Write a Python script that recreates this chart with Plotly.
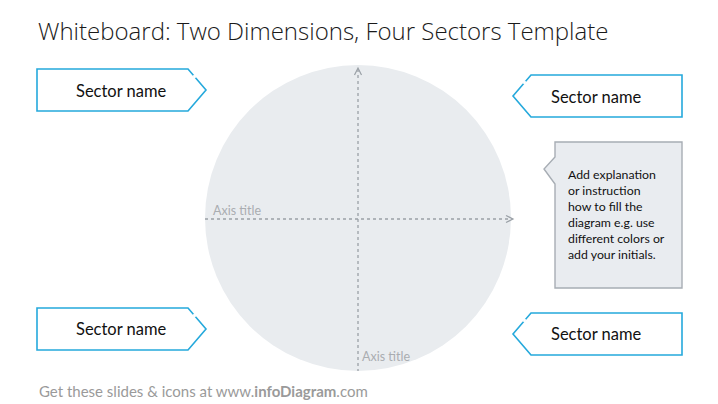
import plotly.graph_objects as go

# texts shown in the template
title_text = "Whiteboard: Two Dimensions, Four Sectors Template"
sector_names = ["Sector name", "Sector name", "Sector name", "Sector name"]
axis_titles = ["Axis title", "Axis title"]
note_lines = ["Add explanation", "or instruction", "how to fill the",
              "diagram e.g. use", "different colors or", "add your initials."]
footer_text = "Get these slides & icons at www.<b>infoDiagram</b>.com"

W, H = 718, 404
OFF = 8  # page body margin of the html
BLUE = "#25a9dc"
DOT = "#9aa0a6"

fig = go.Figure()
shapes = []
annotations = []


def path(points, close=True):
    d = "M " + " L ".join(f"{x},{y}" for x, y in points)
    return d + (" Z" if close else "")


# circle background
cx, cy, r = 358, 218, 153
shapes.append(dict(type="circle", x0=cx - r, x1=cx + r, y0=cy - r, y1=cy + r,
                   fillcolor="#e9ecef", line=dict(width=0), layer="below"))

# dotted axes
shapes.append(dict(type="line", x0=cx, x1=cx, y0=69, y1=371, line=dict(color=DOT, width=1.3, dash="dot")))
shapes.append(dict(type="line", x0=205, x1=512, y0=219, y1=219, line=dict(color=DOT, width=1.3, dash="dot")))
shapes.append(dict(type="path", path=path([(cx - 3.5, 75), (cx, 68), (cx + 3.5, 75)], close=False),
                   line=dict(color=DOT, width=1.2)))
shapes.append(dict(type="path", path=path([(506, 215.5), (513, 219), (506, 222.5)], close=False),
                   line=dict(color=DOT, width=1.2)))

# sector boxes: (left, right, top, bottom, pointing right?, text x, text y)
boxes = [
    (37, 206, 69, 111, True, 121, 91),
    (513, 682, 75, 117, False, 596, 97),
    (37, 206, 308, 350, True, 121, 329),
    (513, 682, 313, 355, False, 596, 334),
]
for (x0, x1, y0, y1, right, tx, ty), name in zip(boxes, sector_names):
    ym = (y0 + y1) / 2
    if right:
        corner, tip = (x1 - 18, y0), (x1, ym)
        pts = [(x0, y0), corner, tip, (x1 - 18, y1), (x0, y1)]
    else:
        corner, tip = (x0 + 18, y0), (x0, ym)
        pts = [(x1, y0), corner, tip, (x0 + 18, y1), (x1, y1)]
    shapes.append(dict(type="path", path=path(pts), fillcolor="white", line=dict(color=BLUE, width=1.6)))
    # small gap on the upper slanted edge
    ga = [corner[i] + (tip[i] - corner[i]) * 0.3 for i in range(2)]
    gb = [corner[i] + (tip[i] - corner[i]) * 0.42 for i in range(2)]
    shapes.append(dict(type="line", x0=ga[0], y0=ga[1], x1=gb[0], y1=gb[1],
                       line=dict(color="white", width=2.4)))
    annotations.append(dict(x=tx, y=ty, text=name, showarrow=False,
                            font=dict(family="Lato", size=16.5, color="#111")))

# callout box
shapes.append(dict(type="path",
                   path=path([(555, 142), (682, 142), (682, 288), (555, 288), (555, 184), (544, 169), (555, 157)]),
                   fillcolor="#e9ecf0", line=dict(color="#a7adb4", width=1.4)))
annotations.append(dict(x=566, y=165, xanchor="left", yanchor="top", align="left",
                        text="<br>".join(note_lines), showarrow=False,
                        font=dict(family="Lato", size=12.3, color="#111")))

# axis titles
annotations.append(dict(x=211, y=210, xanchor="left", text=axis_titles[0], showarrow=False,
                        font=dict(family="Lato", size=12.5, color="#a9adb1")))
annotations.append(dict(x=360, y=356, xanchor="left", text=axis_titles[1], showarrow=False,
                        font=dict(family="Lato", size=12.5, color="#a9adb1")))

# title and footer
annotations.append(dict(x=36, y=30, xanchor="left", text=title_text, showarrow=False,
                        font=dict(family="Open Sans", size=24, color="#1a1a1a", weight=300)))
annotations.append(dict(x=37, y=391, xanchor="left", text=footer_text, showarrow=False,
                        font=dict(family="Lato", size=15, color="#9a9a9a")))

fig.update_layout(
    width=W - 2 * OFF, height=H - OFF,
    margin=dict(l=0, r=0, t=0, b=0),
    paper_bgcolor="white", plot_bgcolor="white",
    xaxis=dict(range=[OFF, W - OFF], visible=False, fixedrange=True),
    yaxis=dict(range=[H, OFF], visible=False, fixedrange=True),
    shapes=shapes, annotations=annotations,
    showlegend=False,
)

fig.write_html("out.html")
